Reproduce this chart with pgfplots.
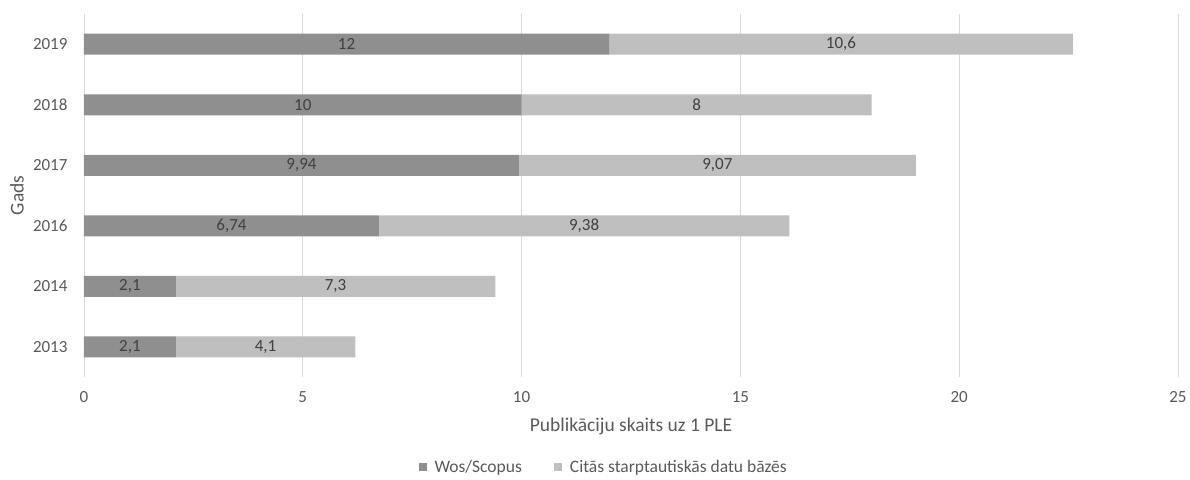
\documentclass[border=0pt]{standalone}
\usepackage{fontspec}
\setmainfont{Carlito}
\usepackage{pgfplots}
\pgfplotsset{compat=1.18}
\usepackage{pgfplotstable}

\definecolor{woscol}{HTML}{8F8F8F}
\definecolor{othercol}{HTML}{BFBFBF}
\definecolor{txt}{HTML}{595959}
\definecolor{lbl}{HTML}{404040}
\definecolor{gridcol}{HTML}{D9D9D9}

% publications per 1 FTE, by year
\pgfplotstableread{
pos year wos other
0 2013 2.1 4.1
1 2014 2.1 7.3
2 2016 6.74 9.38
3 2017 9.94 9.07
4 2018 10 8
5 2019 12 10.6
}\data

\begin{document}
\begin{tikzpicture}[font=\fontsize{17}{20}\selectfont]
\path[use as bounding box] (-84pt,-102pt) rectangle (1106pt,377pt);
\begin{axis}[
  at={(0,0)}, anchor=south west,
  scale only axis, width=1094pt, height=363pt,
  xbar stacked, bar width=21pt,
  xmin=0, xmax=25, ymin=-0.5, ymax=5.5,
  xtick={0,5,...,25},
  ytick={0,...,5},
  yticklabels={2013,2014,2016,2017,2018,2019},
  xmajorgrids,
  major grid style={gridcol, line width=0.9pt},
  axis line style={draw=none},
  tick style={draw=none},
  ticklabel style={text=txt, font=\fontsize{17}{20}\selectfont},
  xticklabel style={anchor=center, yshift=-20pt},
  yticklabel style={anchor=east, xshift=-13pt},
  /pgf/number format/assume math mode=true,
  /pgf/number format/use comma,
  xlabel={Publikāciju skaits uz 1 PLE},
  xlabel style={at={(axis description cs:0.5,0)}, anchor=center, yshift=-49pt,
                text=txt, font=\fontsize{19.5}{22}\selectfont},
  ylabel={Gads},
  ylabel style={at={(axis description cs:0,0.5)}, anchor=center, yshift=67pt,
                text=txt, font=\fontsize{19.5}{22}\selectfont},
  point meta=explicit,
  nodes near coords,
  nodes near coords style={anchor=center, text=lbl, font=\fontsize{17}{20}\selectfont},
  legend style={at={(0.475,-0.248)}, anchor=center, draw=none, fill=none,
                legend columns=2, text=txt, font=\fontsize{17.5}{20}\selectfont,
                /tikz/every odd column/.append style={column sep=6pt},
                /tikz/every even column/.append style={column sep=30pt}},
  legend image code/.code={\fill[#1] (0pt,-4pt) rectangle (8pt,4pt);},
]
\addplot[fill=woscol, draw=none] table[x=wos, y=pos, meta=wos] {\data};
\addplot[fill=othercol, draw=none] table[x=other, y=pos, meta=other] {\data};
\legend{Wos/Scopus, Citās starptautiskās datu bāzēs}
\end{axis}
\end{tikzpicture}
\end{document}
